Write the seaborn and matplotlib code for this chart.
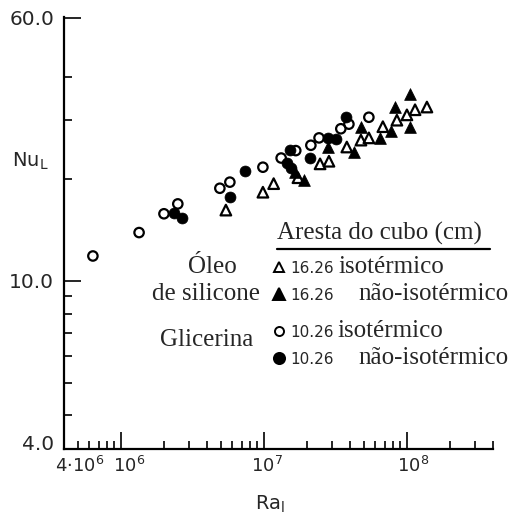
import numpy as np
import pandas as pd
import matplotlib
matplotlib.use("Agg")
import matplotlib.pyplot as plt
import matplotlib.transforms as mtransforms
from matplotlib.ticker import FixedLocator, FixedFormatter, NullFormatter
from matplotlib.lines import Line2D
import seaborn as sns

# ---- data ----
gli_iso_ra = [6.37e5, 1.34e6, 2.0e6, 2.5e6, 4.92e6, 5.78e6, 9.84e6, 1.32e7,
              1.67e7, 2.13e7, 2.43e7, 3.45e7, 3.93e7, 5.42e7]
gli_iso_nu = [11.85, 13.9, 15.8, 16.9, 18.8, 19.6, 21.7, 23.1,
              24.3, 25.2, 26.5, 28.2, 29.1, 30.5]

gli_non_ra = [2.35e6, 2.67e6, 5.78e6, 7.36e6, 1.45e7, 1.52e7, 1.55e7, 2.10e7,
              2.81e7, 3.19e7, 3.74e7]
gli_non_nu = [15.9, 15.4, 17.7, 21.1, 22.3, 24.4, 21.6, 23.1,
              26.5, 26.3, 30.5]

oil_iso_ra = [5.42e6, 9.84e6, 1.17e7, 1.73e7, 2.47e7, 2.85e7, 3.80e7, 4.77e7,
              5.42e7, 6.79e7, 8.51e7, 1.0e8, 1.14e8, 1.38e8]
oil_iso_nu = [16.2, 18.3, 19.4, 20.2, 22.2, 22.6, 24.9, 26.1,
              26.5, 28.6, 29.9, 31.0, 32.1, 32.7]

oil_non_ra = [1.65e7, 1.91e7, 2.81e7, 4.26e7, 4.77e7, 6.47e7, 7.73e7, 8.24e7,
              1.05e8, 1.05e8]
oil_non_nu = [21.0, 19.9, 24.9, 24.1, 28.6, 26.5, 27.8, 32.7,
              35.7, 28.6]

x_major = [4e5, 1e6, 1e7, 1e8]
x_major_labels = ["4·10$^6$", "10$^6$", "10$^7$", "10$^8$"]
x_minor = [5e5, 6e5, 7e5, 8e5, 9e5,
           2e6, 3e6, 4e6, 5e6, 6e6, 7e6, 8e6, 9e6,
           2e7, 3e7, 4e7, 5e7, 6e7, 7e7, 8e7, 9e7,
           2e8, 3e8, 4e8]
y_major = [3.32, 10, 60]
y_major_labels = ["4.0", "10.0", "60.0"]
y_minor = [4, 5, 6, 7, 8, 9, 20, 30, 40]

series = [
    ("Glicerina isotérmico", gli_iso_ra, gli_iso_nu),
    ("Glicerina não-isotérmico", gli_non_ra, gli_non_nu),
    ("Óleo isotérmico", oil_iso_ra, oil_iso_nu),
    ("Óleo não-isotérmico", oil_non_ra, oil_non_nu),
]
df = pd.concat([pd.DataFrame({"Ra": r, "Nu": n, "serie": s}) for s, r, n in series],
               ignore_index=True)

# ---- style ----
sns.set_style("ticks")
plt.rcParams["font.family"] = ["DejaVu Sans"]
plt.rcParams["mathtext.fontset"] = "dejavusans"

W, H = 508, 519
fig = plt.figure(figsize=(W / 100, H / 100), dpi=100)
ax_l, ax_r, ax_t, ax_b = 64, 493, 17, 449
ax = fig.add_axes([ax_l / W, 1 - ax_b / H, (ax_r - ax_l) / W, (ax_b - ax_t) / H])

styles = {
    "Glicerina isotérmico": dict(marker="o", s=46, facecolor="none", edgecolor="black", linewidth=1.6),
    "Glicerina não-isotérmico": dict(marker="o", s=62, color="black", edgecolor="black", linewidth=0.5),
    "Óleo isotérmico": dict(marker="^", s=58, facecolor="none", edgecolor="black", linewidth=1.6),
    "Óleo não-isotérmico": dict(marker="^", s=72, color="black", edgecolor="black", linewidth=0.5),
}
for name in ["Glicerina não-isotérmico", "Óleo não-isotérmico",
             "Glicerina isotérmico", "Óleo isotérmico"]:
    sub = df[df["serie"] == name]
    sns.scatterplot(data=sub, x="Ra", y="Nu", ax=ax, legend=False, zorder=3, **styles[name])

ax.set_xscale("log")
ax.set_yscale("log")
ax.set_xlim(4e5, 4e8)
ax.set_ylim(3.18, 60.4)
sns.despine(ax=ax)
for sp in ["left", "bottom"]:
    ax.spines[sp].set_linewidth(1.6)
    ax.spines[sp].set_color("black")

ax.xaxis.set_major_locator(FixedLocator(x_major))
ax.xaxis.set_major_formatter(FixedFormatter(x_major_labels))
ax.xaxis.set_minor_locator(FixedLocator(x_minor))
ax.xaxis.set_minor_formatter(NullFormatter())
ax.yaxis.set_major_locator(FixedLocator(y_major))
ax.yaxis.set_major_formatter(FixedFormatter(y_major_labels))
ax.yaxis.set_minor_locator(FixedLocator(y_minor))
ax.yaxis.set_minor_formatter(NullFormatter())

ax.tick_params(axis="both", which="both", direction="in", color="black", width=1.2)
ax.tick_params(axis="both", which="major", length=12)
ax.tick_params(axis="both", which="minor", length=5.5)
ax.tick_params(axis="y", which="major", labelsize=14.5, pad=7)
ax.tick_params(axis="x", which="major", labelsize=13, pad=5)

# "4.0" label sits at the axis corner without a tick mark
ax.yaxis.get_major_ticks()[0].tick1line.set_visible(False)

# slight horizontal shifts of x tick labels as in the reference
shifts = [16, 8, 3, 6]
for lab, dx in zip(ax.get_xticklabels(), shifts):
    lab.set_transform(lab.get_transform() + mtransforms.ScaledTranslation(dx / 100, 0, fig.dpi_scale_trans))

ax.set_xlabel(r"$\mathregular{Ra_l}$", fontsize=14)
ax.xaxis.set_label_coords((270 - ax_l) / (ax_r - ax_l), (ax_b - 494) / (ax_b - ax_t))
ax.set_ylabel(r"$\mathregular{Nu_L}$", fontsize=14, rotation=0)
ax.yaxis.label.set_ha("center")
ax.yaxis.label.set_va("center")
ax.yaxis.set_label_coords((30 - ax_l) / (ax_r - ax_l), (ax_b - 161) / (ax_b - ax_t))

# ---- legend block (layout in pixel coordinates) ----
def fx(px):
    return px / W

def fy(py):
    return 1 - py / H

serif = ["Liberation Serif", "DejaVu Serif"]
fs = 18
fig.text(fx(277), fy(240), "Aresta do cubo (cm)", family=serif, fontsize=fs, va="baseline", ha="left")
fig.add_artist(Line2D([fx(277), fx(490)], [fy(249), fy(249)], color="black", lw=1.6))

fig.text(fx(212), fy(273), "Óleo", family=serif, fontsize=fs, va="baseline", ha="center")
fig.text(fx(152), fy(300), "de silicone", family=serif, fontsize=fs, va="baseline", ha="left")
fig.text(fx(207), fy(346), "Glicerina", family=serif, fontsize=fs, va="baseline", ha="center")

rows = [
    (273, "^", "none", "16.26", "isotérmico", 338, 7.5),
    (300, "^", "black", "16.26", "não-isotérmico", 358, 8),
    (337, "o", "none", "10.26", "isotérmico", 337, 6.5),
    (364, "o", "black", "10.26", "não-isotérmico", 358, 8),
]
for base, mk, fc, num, desc, dx, ms in rows:
    fig.add_artist(Line2D([fx(279)], [fy(base - 6)], marker=mk, markersize=ms,
                          markerfacecolor=fc, markeredgecolor="black",
                          markeredgewidth=1.4, linestyle="none"))
    fig.text(fx(290), fy(base), num, fontsize=11, va="baseline", ha="left")
    fig.text(fx(dx), fy(base), desc, family=serif, fontsize=fs, va="baseline", ha="left")

fig.savefig("out.png", dpi=100)
